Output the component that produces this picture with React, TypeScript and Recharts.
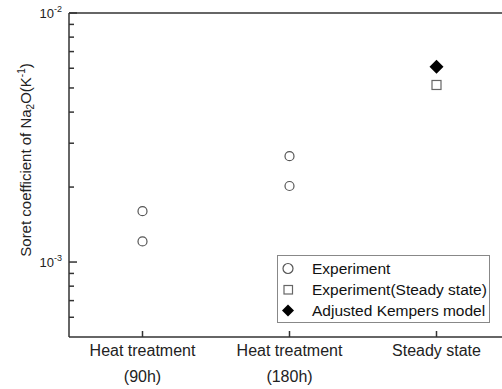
import { ScatterChart, Scatter, XAxis, YAxis } from "recharts";

// category labels, one entry per line
const categories = [
  ["Heat treatment", "(90h)"],
  ["Heat treatment", "(180h)"],
  ["Steady state"],
];

// Soret coefficient readings (K^-1)
const experimentValues = [
  [1.6e-3, 1.21e-3],
  [2.66e-3, 2.02e-3],
];
const steadyExperiment = [5.14e-3];
const kempersModel = [6.09e-3];

const yTicks = [
  6e-4, 7e-4, 8e-4, 9e-4, 1e-3, 2e-3, 3e-3, 4e-3, 5e-3, 6e-3, 7e-3, 8e-3, 9e-3,
  1e-2,
];
const majorTicks = [1e-3, 1e-2];
const xTicks = categories.map((_, i) => i + 1);

const experimentPoints = experimentValues.flatMap((vals, i) =>
  vals.map((v) => ({ x: i + 1, y: v })),
);
const steadyPoints = steadyExperiment.map((v) => ({ x: categories.length, y: v }));
const kempersPoints = kempersModel.map((v) => ({ x: categories.length, y: v }));

const AXIS = "#333";
const FONT = "'Liberation Sans', Arial, sans-serif";

const isMajor = (v: number) => majorTicks.some((m) => Math.abs(m - v) / m < 1e-6);

const renderYTick = (props: any) => {
  const { x, y, payload } = props;
  const v = Number(payload.value);
  const major = isMajor(v);
  const exp = Math.round(Math.log10(v));
  const len = major ? 8 : 5;
  return (
    <g key={`yt-${v}`}>
      <path d={`M${x},${y}h${len}`} stroke={AXIS} strokeWidth={1.5} fill="none" />
      {major && (
        <text x={x - 7} y={y + 5} textAnchor="end" fontSize={13} fill="#222" stroke="none">
          10
          <tspan dy={-6} fontSize={9}>
            {exp}
          </tspan>
        </text>
      )}
    </g>
  );
};

const renderXTick = (props: any) => {
  const { x, y, payload } = props;
  const lines = categories[payload.value - 1] || [];
  return (
    <g key={`xt-${payload.value}`}>
      <path d={`M${x},${y}v-6`} stroke={AXIS} strokeWidth={1.5} fill="none" />
      {lines.map((l, i) => (
        <text key={i} x={x} y={y + 19 + i * 26} textAnchor="middle" fontSize={16} fill="#222" stroke="none">
          {l}
        </text>
      ))}
    </g>
  );
};

const renderTopTick = (props: any) => {
  const { x, y, payload } = props;
  return (
    <path key={`tt-${payload.value}`} d={`M${x},${y}v6`} stroke={AXIS} strokeWidth={1.5} fill="none" />
  );
};

const circleShape = (p: any) => (
  <circle cx={p.cx} cy={p.cy} r={4.5} fill="#fff" stroke="#555" strokeWidth={1.2} />
);
const squareShape = (p: any) => (
  <rect x={p.cx - 4.5} y={p.cy - 4.5} width={9} height={9} fill="#fff" stroke="#666" strokeWidth={1.2} />
);
const diamondShape = (p: any) => (
  <polygon
    points={`${p.cx},${p.cy - 7} ${p.cx + 7},${p.cy} ${p.cx},${p.cy + 7} ${p.cx - 7},${p.cy}`}
    fill="#000"
  />
);

function YLabel() {
  return (
    <text
      x={31}
      y={160}
      transform="rotate(-90 31 160)"
      textAnchor="middle"
      fontSize={15}
      fill="#222"
    >
      Soret coefficient of Na
      <tspan dy={3} fontSize={10}>
        2
      </tspan>
      <tspan dy={-3}>O(K</tspan>
      <tspan dy={-6} fontSize={10}>
        -1
      </tspan>
      <tspan dy={6}>)</tspan>
    </text>
  );
}

const legendItems = [
  { name: "Experiment", icon: <circle cx={9} cy={10.5} r={5} fill="#fff" stroke="#555" strokeWidth={1.2} /> },
  {
    name: "Experiment(Steady state)",
    icon: <rect x={5} y={6.5} width={8.5} height={8.5} fill="#fff" stroke="#666" strokeWidth={1.2} />,
  },
  { name: "Adjusted Kempers model", icon: <polygon points="9,4.5 15,10.5 9,16.5 3,10.5" fill="#000" /> },
];

export default function App() {
  return (
    <div
      style={{
        position: "absolute",
        left: 0,
        top: 0,
        width: 502,
        height: 389,
        overflow: "hidden",
        background: "#fff",
        fontFamily: FONT,
      }}
    >
      <ScatterChart width={520} height={389} margin={{ top: 12, right: 10, left: 0, bottom: 0 }}>
        <XAxis
          dataKey="x"
          type="number"
          domain={[0.5, 3.5]}
          ticks={xTicks}
          interval={0}
          height={52}
          tickSize={0}
          tickMargin={0}
          tickLine={false}
          tick={renderXTick}
          axisLine={{ stroke: AXIS, strokeWidth: 1.5 }}
          allowDataOverflow
        />
        <XAxis
          xAxisId="top"
          orientation="top"
          type="number"
          domain={[0.5, 3.5]}
          ticks={xTicks}
          interval={0}
          height={1}
          tickSize={0}
          tickMargin={0}
          tickLine={false}
          tick={renderTopTick}
          axisLine={{ stroke: AXIS, strokeWidth: 1.5 }}
          allowDataOverflow
        />
        <YAxis
          dataKey="y"
          type="number"
          scale="log"
          domain={[5e-4, 1e-2]}
          ticks={yTicks}
          interval={0}
          width={69}
          tickSize={0}
          tickMargin={0}
          tickLine={false}
          tick={renderYTick}
          axisLine={{ stroke: AXIS, strokeWidth: 1.5 }}
          allowDataOverflow
          label={<YLabel />}
        />
        <Scatter data={experimentPoints} shape={circleShape} isAnimationActive={false} />
        <Scatter data={steadyPoints} shape={squareShape} isAnimationActive={false} />
        <Scatter data={kempersPoints} shape={diamondShape} isAnimationActive={false} />
      </ScatterChart>
      <div
        style={{
          position: "absolute",
          left: 277,
          top: 255,
          width: 211,
          padding: "2px 0 1px 0",
          border: "1px solid #888",
          background: "#fff",
          fontSize: 15.5,
          color: "#111",
          whiteSpace: "nowrap",
        }}
      >
        {legendItems.map((it) => (
          <div key={it.name} style={{ display: "flex", alignItems: "center", height: 21 }}>
            <svg width={18} height={21} style={{ marginLeft: 1 }}>
              {it.icon}
            </svg>
            <span style={{ marginLeft: 15 }}>{it.name}</span>
          </div>
        ))}
      </div>
    </div>
  );
}
